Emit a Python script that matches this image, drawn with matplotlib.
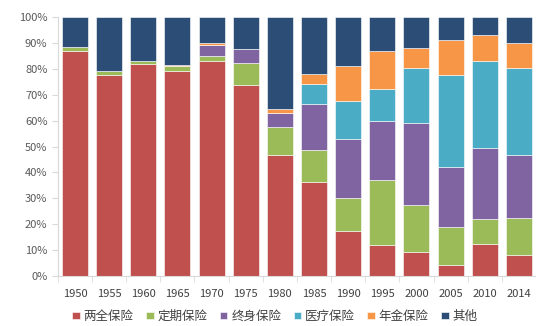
import numpy as np
import matplotlib.pyplot as plt
from matplotlib.ticker import PercentFormatter

plt.rcParams['font.family'] = ['Noto Sans CJK SC', 'DejaVu Sans']

years = ['1950', '1955', '1960', '1965', '1970', '1975', '1980',
         '1985', '1990', '1995', '2000', '2005', '2010', '2014']
series_names = ['两全保险', '定期保险', '终身保险', '医疗保险', '年金保险', '其他']

endowment = [86.9, 77.5, 81.7, 79.2, 83.1, 73.6, 46.7, 36.4, 17.5, 12.2, 9.5, 4.2, 12.5, 8.2]
term = [1.6, 1.5, 1.3, 1.8, 2.0, 8.8, 10.8, 12.4, 12.7, 24.7, 18.0, 14.7, 9.4, 14.1]
whole_life = [0, 0, 0, 0, 4.1, 5.2, 5.3, 17.7, 22.6, 22.9, 31.5, 23.1, 27.6, 24.3]
medical = [0, 0, 0, 0, 0, 0, 0, 7.5, 14.6, 12.4, 21.2, 35.5, 33.4, 33.6]
annuity = [0, 0, 0, 0.3, 0.9, 0, 1.7, 4.0, 13.7, 14.6, 8.0, 13.5, 10.1, 9.6]
# "其他" is whatever is left up to 100%
other = [100 - a - b - c - d - e for a, b, c, d, e in
         zip(endowment, term, whole_life, medical, annuity)]

colors = ['#C0504D', '#9BBB59', '#8064A2', '#4BACC6', '#F79646', '#2C4D75']

fig = plt.figure(figsize=(5.36, 3.26), dpi=100)
ax = fig.add_axes([0.108, 0.153, 0.892, 0.795])

x = np.arange(len(years))
bottom = np.zeros(len(years))
for name, vals, col in zip(series_names,
                           [endowment, term, whole_life, medical, annuity, other],
                           colors):
    ax.bar(x, vals, 0.76, bottom=bottom, color=col, label=name,
           edgecolor='white', linewidth=0.4)
    bottom += np.array(vals)

ax.set_xlim(-0.5, len(years) - 0.5)
ax.set_ylim(0, 100)
ax.set_yticks(np.arange(0, 101, 10))
ax.yaxis.set_major_formatter(PercentFormatter(decimals=0))
ax.set_xticks(x)
ax.set_xticklabels(years)
ax.set_xticks(np.arange(-0.5, len(years), 1), minor=True)
ax.tick_params(axis='x', which='major', length=0, pad=9, labelsize=8, labelcolor='#404040')
ax.tick_params(axis='x', which='minor', length=4, color='#D9D9D9')
ax.tick_params(axis='y', length=4, color='#D9D9D9', labelsize=8, labelcolor='#595959')

for s in ['top', 'right']:
    ax.spines[s].set_visible(False)
ax.spines['left'].set_color('#D9D9D9')
ax.spines['bottom'].set_color('#D9D9D9')

leg = fig.legend(loc='lower center', bbox_to_anchor=(0.513, -0.025), ncol=6,
                 frameon=False, fontsize=9, handlelength=0.6, handleheight=0.6,
                 handletextpad=0.3, columnspacing=1.0)
for t in leg.get_texts():
    t.set_color('#404040')

fig.savefig('out.png', dpi=100)
